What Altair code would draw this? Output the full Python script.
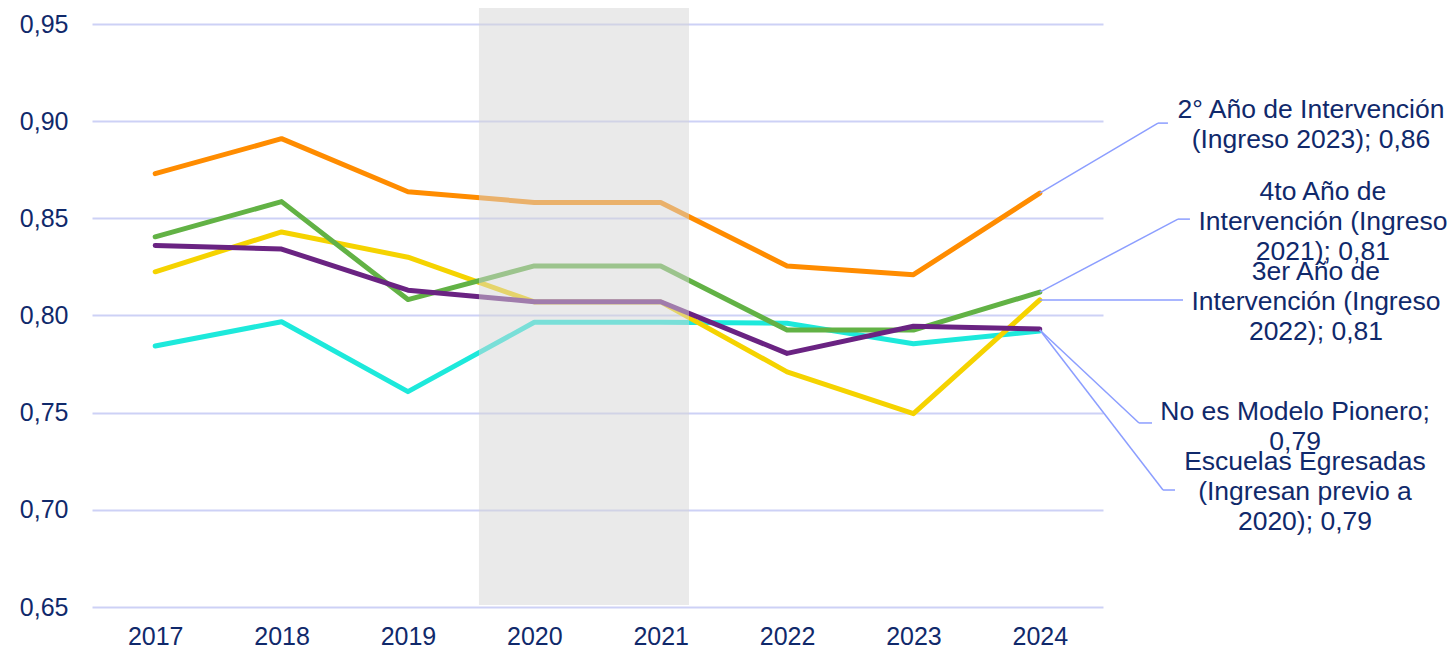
import altair as alt
import pandas as pd

years = [2017, 2018, 2019, 2020, 2021, 2022, 2023, 2024]

s_2do = [0.873, 0.891, 0.8637, 0.8582, 0.8582, 0.8255, 0.821, 0.863]
s_4to = [0.8405, 0.8586, 0.8082, 0.8255, 0.8255, 0.7925, 0.7925, 0.812]
s_3er = [0.8225, 0.843, 0.830, 0.807, 0.807, 0.771, 0.7495, 0.808]
s_egr = [0.836, 0.8342, 0.813, 0.8071, 0.8071, 0.7805, 0.7945, 0.793]
s_nop = [0.7843, 0.7968, 0.7608, 0.7965, 0.7965, 0.796, 0.7855, 0.792]

# draw order: bottom to top
series = [
    ("No es Modelo Pionero", s_nop, "#1DE9DB"),
    ("2° Año de Intervención (Ingreso 2023)", s_2do, "#FF8C00"),
    ("3er Año de Intervención (Ingreso 2022)", s_3er, "#F5D300"),
    ("4to Año de Intervención (Ingreso 2021)", s_4to, "#62B245"),
    ("Escuelas Egresadas (Ingresan previo a 2020)", s_egr, "#6A2382"),
]

# label texts and positions (data units; y = first line)
label_texts = [
    "2° Año de Intervención\n(Ingreso 2023); 0,86",
    "4to Año de\nIntervención (Ingreso\n2021); 0,81",
    "3er Año de\nIntervención (Ingreso\n2022); 0,81",
    "No es Modelo Pionero;\n0,79",
    "Escuelas Egresadas\n(Ingresan previo a\n2020); 0,79",
]
label_x = [2026.146, 2026.24, 2026.185, 2026.02, 2026.098]
label_y = [0.9057, 0.8637, 0.8225, 0.7505, 0.7247]

# leader line segments (x, y, x2, y2) in data units
leader_x = [2024.0, 2024.935, 2024.0, 2025.093, 2024.0, 2024.0, 2024.785, 2024.0, 2024.975]
leader_y = [0.863, 0.899, 0.812, 0.8496, 0.808, 0.7925, 0.7447, 0.7925, 0.7102]
leader_x2 = [2024.935, 2025.014, 2025.093, 2025.188, 2025.133, 2024.785, 2024.888, 2024.975, 2025.07]
leader_y2 = [0.899, 0.899, 0.8496, 0.8496, 0.808, 0.7447, 0.7447, 0.7102, 0.7102]

band_start, band_end = 2019.562, 2021.224

TEXT = "#10296B"
FONT = "Liberation Sans"

xscale = alt.Scale(domain=[2016.5, 2024.5], nice=False, zero=False)
yscale = alt.Scale(domain=[0.65, 0.95], nice=False, zero=False)

layers = []
first = True
for name, vals, col in series:
    df = pd.DataFrame({"year": years, "value": vals, "serie": name})
    if first:
        xenc = alt.X("year:Q", scale=xscale, axis=alt.Axis(
            values=years, format="d", grid=False, domain=False, ticks=False, tickSize=0,
            labelFontSize=25, labelColor=TEXT, labelFont=FONT, labelPadding=17, title=None))
        yenc = alt.Y("value:Q", scale=yscale, axis=alt.Axis(
            values=[0.65, 0.70, 0.75, 0.80, 0.85, 0.90, 0.95],
            labelExpr="replace(format(datum.value, '.2f'), '.', ',')",
            grid=True, gridColor="#CDD1F6", gridWidth=2, domain=False, ticks=False, tickSize=0,
            labelFontSize=25, labelColor=TEXT, labelFont=FONT, labelPadding=24, title=None))
        first = False
    else:
        xenc = alt.X("year:Q", scale=xscale)
        yenc = alt.Y("value:Q", scale=yscale)
    layers.append(
        alt.Chart(df).mark_line(color=col, strokeWidth=5, strokeCap="round", strokeJoin="round")
        .encode(x=xenc, y=yenc)
    )

band_df = pd.DataFrame({"x": [band_start], "x2": [band_end]})
band = alt.Chart(band_df).mark_rect(color="#D6D6D6", opacity=0.5).encode(
    x=alt.X("x:Q", scale=xscale),
    x2="x2:Q",
    y=alt.value(-16),
    y2=alt.value(581),
)

lead_df = pd.DataFrame({"x": leader_x, "y": leader_y, "x2": leader_x2, "y2": leader_y2})
leaders = alt.Chart(lead_df).mark_rule(color="#8C9EFF", strokeWidth=1.5).encode(
    x=alt.X("x:Q", scale=xscale), y=alt.Y("y:Q", scale=yscale), x2="x2:Q", y2="y2:Q"
)

lab_df = pd.DataFrame({"x": label_x, "y": label_y, "t": label_texts})
labels = alt.Chart(lab_df).mark_text(
    align="center", baseline="middle", fontSize=26.5, lineHeight=30, lineBreak="\n",
    color=TEXT, font=FONT
).encode(x=alt.X("x:Q", scale=xscale), y=alt.Y("y:Q", scale=yscale), text="t:N")

chart = alt.layer(*layers, band, leaders, labels).properties(
    width=1011, height=583,
    autosize=alt.AutoSizeParams(type="none"),
    padding={"left": 84, "top": 16, "right": 344, "bottom": 43},
).configure_view(stroke=None)

chart.save("out.html", embed_options={"renderer": "svg", "actions": False})
